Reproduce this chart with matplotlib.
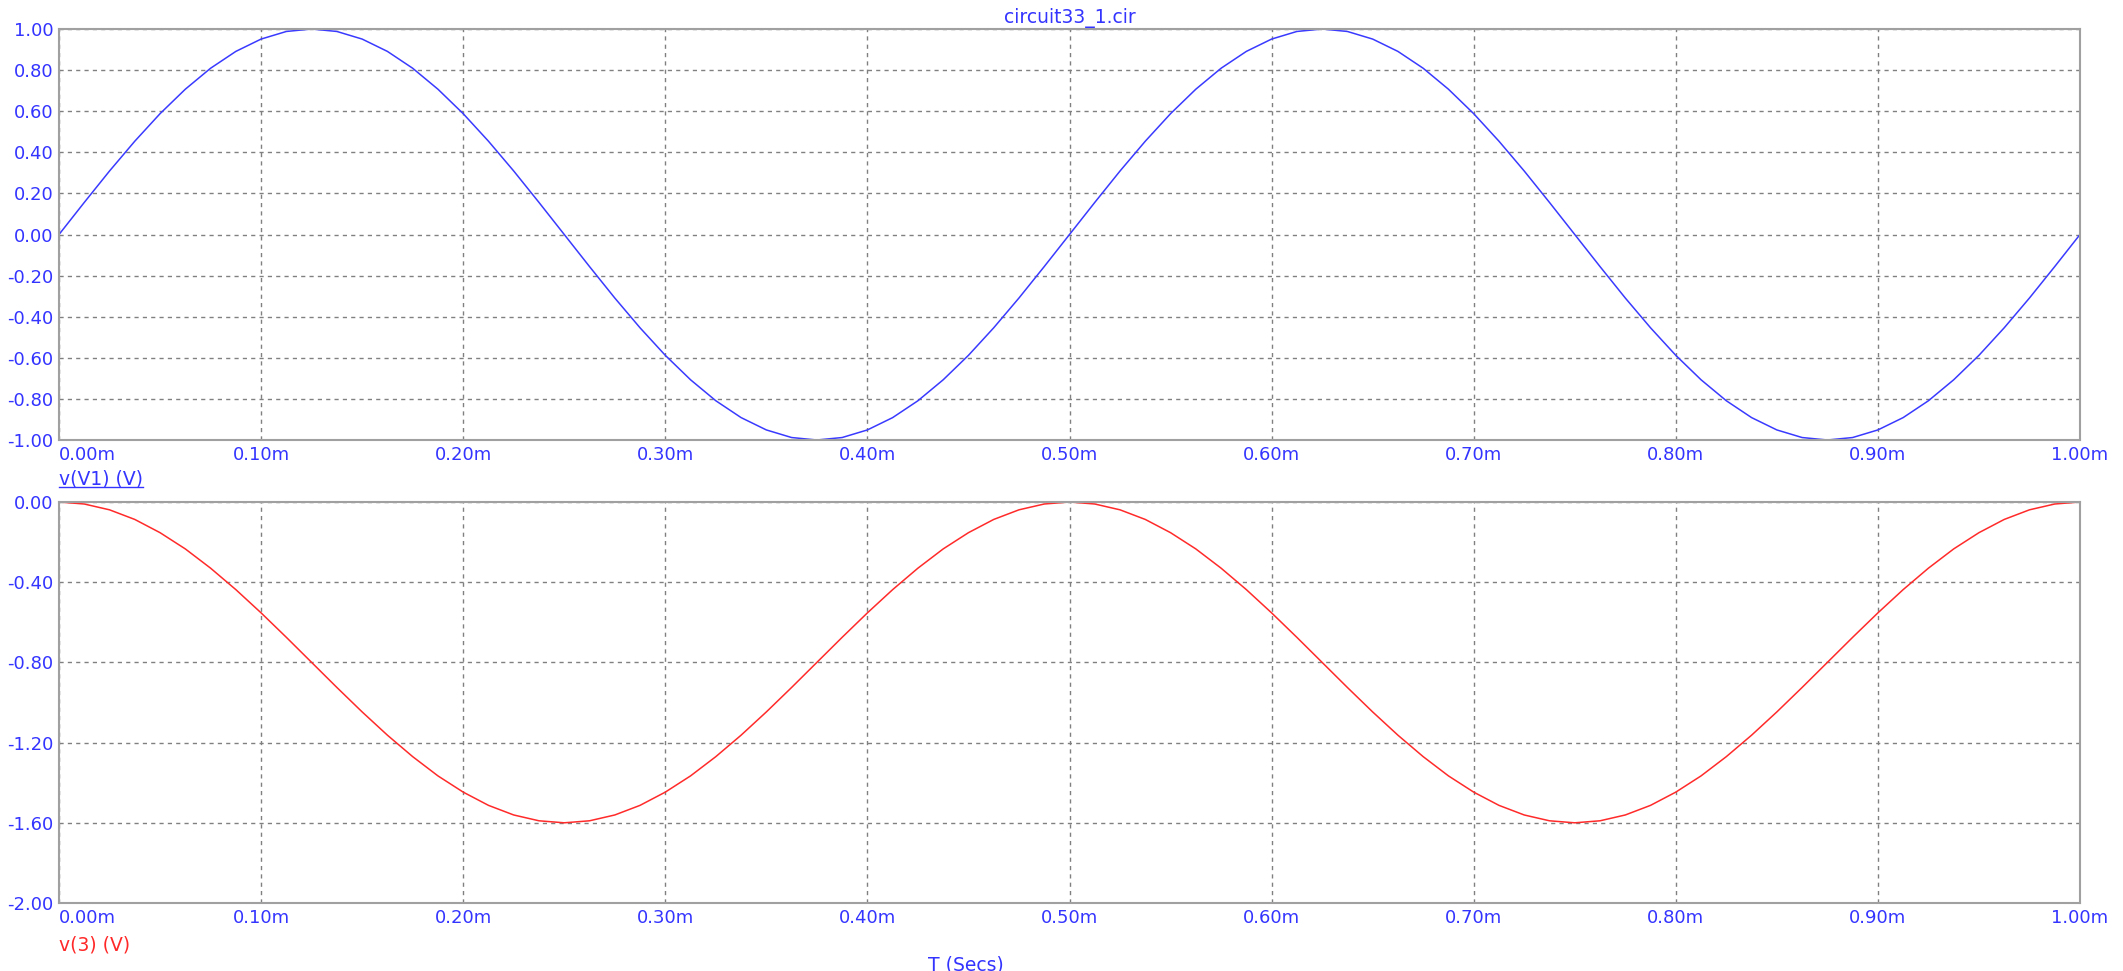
import numpy as np
import matplotlib
matplotlib.use("Agg")
import matplotlib.pyplot as plt
from matplotlib.lines import Line2D

# ---------------- data ----------------
time_ms = np.linspace(0.0, 1.0, 81)  # sample grid (ms)

v_v1 = [0.000, 0.156, 0.309, 0.454, 0.588, 0.707, 0.809, 0.891, 0.951, 0.988,
        1.000, 0.988, 0.951, 0.891, 0.809, 0.707, 0.588, 0.454, 0.309, 0.156,
        0.000, -0.156, -0.309, -0.454, -0.588, -0.707, -0.809, -0.891, -0.951, -0.988,
        -1.000, -0.988, -0.951, -0.891, -0.809, -0.707, -0.588, -0.454, -0.309, -0.156,
        0.000, 0.156, 0.309, 0.454, 0.588, 0.707, 0.809, 0.891, 0.951, 0.988,
        1.000, 0.988, 0.951, 0.891, 0.809, 0.707, 0.588, 0.454, 0.309, 0.156,
        0.000, -0.156, -0.309, -0.454, -0.588, -0.707, -0.809, -0.891, -0.951, -0.988,
        -1.000, -0.988, -0.951, -0.891, -0.809, -0.707, -0.588, -0.454, -0.309, -0.156,
        0.000]

v_3 = [0.000, -0.010, -0.039, -0.087, -0.153, -0.234, -0.330, -0.437, -0.553, -0.675,
       -0.800, -0.925, -1.047, -1.163, -1.270, -1.366, -1.447, -1.513, -1.561, -1.590,
       -1.600, -1.590, -1.561, -1.513, -1.447, -1.366, -1.270, -1.163, -1.047, -0.925,
       -0.800, -0.675, -0.553, -0.437, -0.330, -0.234, -0.153, -0.087, -0.039, -0.010,
       0.000, -0.010, -0.039, -0.087, -0.153, -0.234, -0.330, -0.437, -0.553, -0.675,
       -0.800, -0.925, -1.047, -1.163, -1.270, -1.366, -1.447, -1.513, -1.561, -1.590,
       -1.600, -1.590, -1.561, -1.513, -1.447, -1.366, -1.270, -1.163, -1.047, -0.925,
       -0.800, -0.675, -0.553, -0.437, -0.330, -0.234, -0.153, -0.087, -0.039, -0.010,
       0.000]

x_ticks = [0.0, 0.1, 0.2, 0.3, 0.4, 0.5, 0.6, 0.7, 0.8, 0.9, 1.0]
x_ticklabels = ["0.00m", "0.10m", "0.20m", "0.30m", "0.40m", "0.50m",
                "0.60m", "0.70m", "0.80m", "0.90m", "1.00m"]
y1_ticks = [-1.0, -0.8, -0.6, -0.4, -0.2, 0.0, 0.2, 0.4, 0.6, 0.8, 1.0]
y1_ticklabels = ["-1.00", "-0.80", "-0.60", "-0.40", "-0.20", "0.00",
                 "0.20", "0.40", "0.60", "0.80", "1.00"]
y2_ticks = [-2.0, -1.6, -1.2, -0.8, -0.4, 0.0]
y2_ticklabels = ["-2.00", "-1.60", "-1.20", "-0.80", "-0.40", "0.00"]

title = "circuit33_1.cir"
label_top = "v(V1) (V)"
label_bottom = "v(3) (V)"
xlabel = "T (Secs)"

# ---------------- style ----------------
W, H = 2123, 971
BLUE_TXT = "#3434ff"
RED_TXT = "#ff2828"
BLUE_LINE = "#3a3aff"
RED_LINE = "#ff2a2a"
SPINE = "#a0a0a0"
GRID = "#808080"
plt.rcParams["font.family"] = ["DejaVu Sans"]

fig = plt.figure(figsize=(W / 100, H / 100), dpi=100)

def px_axes(left, top, right, bottom):
    return [left / W, 1 - bottom / H, (right - left) / W, (bottom - top) / H]

ax1 = fig.add_axes(px_axes(59, 29, 2080, 440))
ax2 = fig.add_axes(px_axes(59, 502, 2080, 903))

def style(ax, yt, ytl, ylim):
    ax.set_xlim(0, 1.0)
    ax.set_ylim(*ylim)
    ax.set_xticks(x_ticks)
    ax.set_xticklabels(x_ticklabels)
    ax.set_yticks(yt)
    ax.set_yticklabels(ytl)
    ax.tick_params(axis="both", length=0, labelsize=13, labelcolor=BLUE_TXT)
    ax.tick_params(axis="x", pad=4.5)
    ax.tick_params(axis="y", pad=4)
    ax.get_xticklabels()[0].set_horizontalalignment("left")
    for s in ax.spines.values():
        s.set_color(SPINE)
        s.set_linewidth(1.5)
    ax.grid(True, color=GRID, linestyle=(0, (3, 3)), linewidth=1.0)
    ax.set_axisbelow(True)

ax1.plot(time_ms, v_v1, color=BLUE_LINE, linewidth=1.1)
ax2.plot(time_ms, v_3, color=RED_LINE, linewidth=1.1)
style(ax1, y1_ticks, y1_ticklabels, (-1.0, 1.0))
style(ax2, y2_ticks, y2_ticklabels, (-2.0, 0.0))

ax1.set_title(title, color=BLUE_TXT, fontsize=13.5, pad=4.5)

t1 = fig.text(59 / W, 1 - 484 / H, label_top, color=BLUE_TXT, fontsize=13.5,
              ha="left", va="baseline")
fig.text(59 / W, 1 - 950 / H, label_bottom, color=RED_TXT, fontsize=13.5,
         ha="left", va="baseline")
fig.text(966 / W, 1.0 / H, xlabel, color=BLUE_TXT, fontsize=13.5,
         ha="center", va="baseline")

fig.canvas.draw()
bb = t1.get_window_extent()
uy = 1 - 487 / H
fig.add_artist(Line2D([bb.x0 / W, bb.x1 / W], [uy, uy], color=BLUE_TXT,
                      linewidth=1.0, transform=fig.transFigure))

fig.savefig("out.png", dpi=100)
